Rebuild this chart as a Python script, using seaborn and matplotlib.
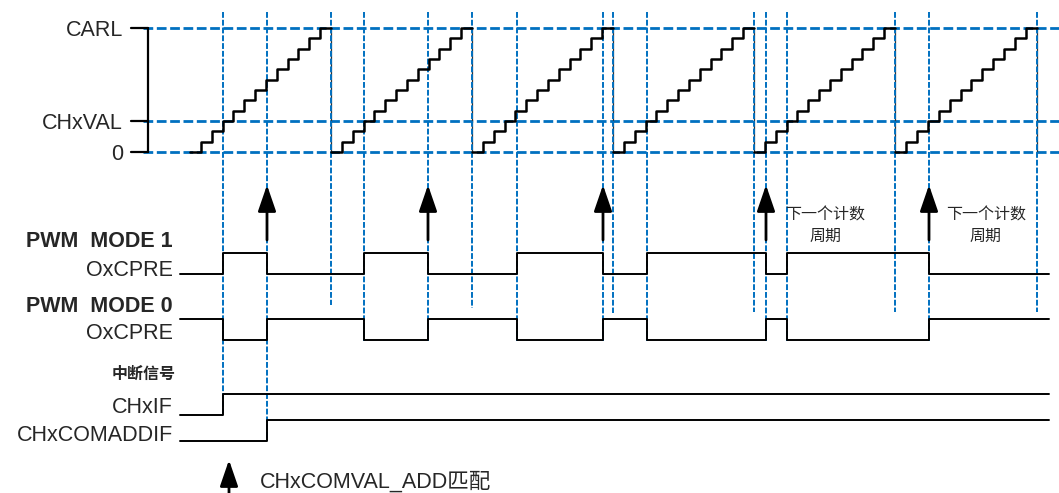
import numpy as np
import pandas as pd
import matplotlib
matplotlib.use("Agg")
import matplotlib.pyplot as plt
import seaborn as sns

# counter (sawtooth) : period starts/ends in px, 13 counter values 0..CARL
period_starts = [190, 331, 472, 613, 754, 895]
period_ends = [331, 472, 613, 754, 895, 1037]
counter_values = list(range(13))
CARL = 12
CHxVAL = 3
level_y = {"0": 152, "CHxVAL": 121, "CARL": 28}

# edges of OxCPRE (compare matches) and ADD-match arrows
edges = [223, 267, 364, 428, 517, 603, 647, 766, 787, 929]
edge_bottoms = [413, 441, 341, 341, 341, 341, 341, 341, 341, 341]
boundary_bottoms = [305, 308, 313, 312, 312, 312]
arrow_x = [267, 428, 603, 766, 929]
note_x = [825, 986]

sig_x0, sig_x1 = 180, 1049
mode1_levels = (274, 253)   # low, high
mode0_levels = (340, 319)
chxif_levels = (415, 394)
addif_levels = (441, 420)
chxif_edge = [223]
addif_edge = [267]

blue = "#0070C0"

sns.set_style("white")
plt.rcParams["font.family"] = ["Liberation Sans", "Noto Sans CJK SC", "DejaVu Sans"]
plt.rcParams["lines.scale_dashes"] = False

fig = plt.figure(figsize=(10.59, 4.93), dpi=100)
ax = fig.add_axes([0, 0, 1, 1])
ax.set_xlim(0, 1059)
ax.set_ylim(493, 0)
ax.axis("off")


def cnt_y(v):
    return level_y["0"] + (level_y["CARL"] - level_y["0"]) * v / CARL


def steps(x0, x1, edg, start):
    xs, st = [x0], [start]
    s = start
    for e in edg:
        xs += [e, e]
        st += [s, 1 - s]
        s = 1 - s
    xs.append(x1)
    st.append(s)
    return xs, st


# horizontal blue dashed reference lines
for y in level_y.values():
    ax.plot([143, 1059], [y, y], color=blue, lw=2.0, ls=(0, (7, 2.6)), zorder=1)

# vertical blue dashed lines
for x, b in zip(edges, edge_bottoms):
    ax.plot([x, x], [12, b], color=blue, lw=1.4, ls=(0, (4.2, 1.4)), zorder=3)
for x, b in zip(period_ends, boundary_bottoms):
    ax.plot([x, x], [12, b], color=blue, lw=1.4, ls=(0, (4.2, 1.4)), zorder=3)

# left scale
ax.plot([148, 148], [level_y["CARL"], level_y["0"]], color="black", lw=1.6, zorder=2)
for name, y in level_y.items():
    ax.plot([131, 148], [y, y], color="black", lw=1.6, zorder=2)
    ax.text(123, y, name, ha="right", va="center_baseline", fontsize=15.5)

# counter staircase
for s, e in zip(period_starts, period_ends):
    w = (e - s) / len(counter_values)
    xs, ys = [], []
    for k, v in enumerate(counter_values):
        xs += [s + k * w, s + (k + 1) * w]
        ys += [cnt_y(v), cnt_y(v)]
    df = pd.DataFrame({"x": xs, "y": ys})
    sns.lineplot(data=df, x="x", y="y", sort=False, estimator=None,
                 color="black", lw=1.8, ax=ax, zorder=4)
    ax.plot([e, e], [cnt_y(CARL), cnt_y(0)], color="#333333", lw=0.9, zorder=2)

# digital signals
signals = [
    (edges, mode1_levels, 0),
    (edges, mode0_levels, 1),
    (chxif_edge, chxif_levels, 0),
    (addif_edge, addif_levels, 0),
]
for edg, (lo, hi), start in signals:
    xs, st = steps(sig_x0, sig_x1, edg, start)
    ys = [lo + (hi - lo) * s for s in st]
    sns.lineplot(x=xs, y=ys, sort=False, estimator=None,
                 color="black", lw=1.4, ax=ax, zorder=4)

# arrows
for x in arrow_x:
    ax.annotate("", xy=(x, 185), xytext=(x, 240),
                arrowprops=dict(arrowstyle="-|>,head_length=1.6,head_width=0.55",
                                mutation_scale=10, color="black", lw=2,
                                shrinkA=0, shrinkB=0), zorder=5)
ax.annotate("", xy=(229, 460), xytext=(229, 493),
            arrowprops=dict(arrowstyle="-|>,head_length=1.6,head_width=0.55",
                            mutation_scale=10, color="black", lw=2,
                            shrinkA=0, shrinkB=0), zorder=5)

# labels
ax.text(173, 239, "PWM  MODE 1", ha="right", va="center_baseline", fontsize=15.5, fontweight="bold")
ax.text(173, 268, "OxCPRE", ha="right", va="center_baseline", fontsize=15.5)
ax.text(173, 304, "PWM  MODE 0", ha="right", va="center_baseline", fontsize=15.5, fontweight="bold")
ax.text(173, 331, "OxCPRE", ha="right", va="center_baseline", fontsize=15.5)
ax.text(176, 374, "中断信号", ha="right", va="center", fontsize=11.5, fontweight="bold",
        family=["Noto Sans CJK SC"])
ax.text(173, 405, "CHxIF", ha="right", va="center_baseline", fontsize=15.5)
ax.text(173, 433, "CHxCOMADDIF", ha="right", va="center_baseline", fontsize=15.5)
ax.text(260, 479, "CHxCOMVAL_ADD匹配", ha="left", va="center_baseline", fontsize=15.5)
for x in note_x:
    ax.text(x, 215, "下一个计数", ha="center", va="center", fontsize=11.5,
            family=["Noto Sans CJK SC"])
    ax.text(x, 236, "周期", ha="center", va="center", fontsize=11.5,
            family=["Noto Sans CJK SC"])

fig.savefig("out.png", dpi=100)
